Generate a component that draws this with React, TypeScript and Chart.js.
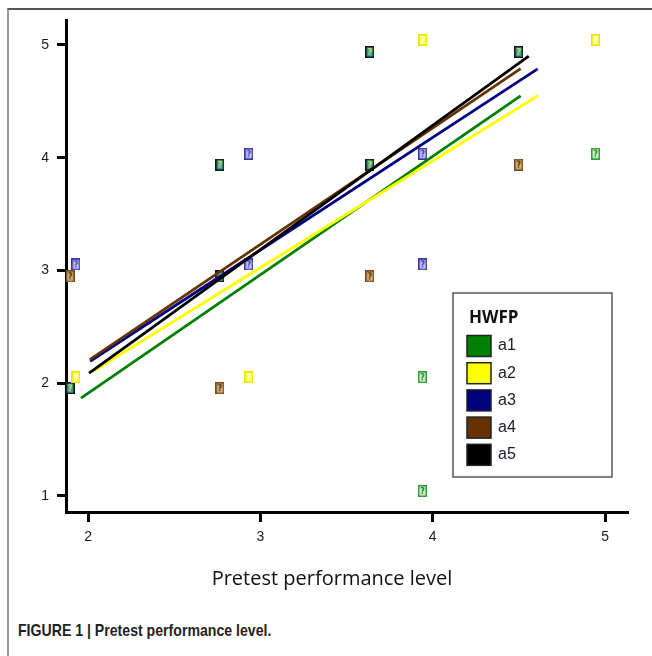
import React, { useEffect, useRef } from "react";
import { Chart, registerables } from "chart.js";

Chart.register(...registerables);

const SERIES_NAMES = ["a1", "a2", "a3", "a4", "a5"];
const SERIES_COLORS = ["#008000", "#ffff00", "#000080", "#663300", "#000000"];

const A1_X = [3.94, 3.94, 4.945];
const A1_Y = [2.053, 1.044, 4.035];
const A2_X = [1.93, 2.933, 3.942, 4.945];
const A2_Y = [2.053, 2.053, 5.044, 5.044];
const A3_X = [1.93, 2.933, 2.933, 3.942, 3.942];
const A3_Y = [3.053, 4.035, 3.053, 4.035, 3.053];
const A4_X = [1.896, 2.765, 3.635, 4.499];
const A4_Y = [2.947, 1.956, 2.947, 3.938];
const A5_X = [1.896, 2.765, 2.765, 3.635, 3.635, 4.499];
const A5_Y = [1.956, 3.938, 2.947, 4.938, 3.938, 4.938];

// Fitted lines (start and end points)
const FIT_A1_X = [1.959, 4.51];
const FIT_A1_Y = [1.867, 4.549];
const FIT_A2_X = [2.03, 4.61];
const FIT_A2_Y = [2.106, 4.549];
const FIT_A3_X = [2.012, 4.609];
const FIT_A3_Y = [2.195, 4.788];
const FIT_A4_X = [2.01, 4.51];
const FIT_A4_Y = [2.21, 4.79];
const FIT_A5_X = [2.006, 4.557];
const FIT_A5_Y = [2.09, 4.9];

const X_TICKS = [2, 3, 4, 5];
const Y_TICKS = [1, 2, 3, 4, 5];
const X_MIN = 1.872;
const X_MAX = 5.133;
const Y_MIN = 0.858;
const Y_MAX = 5.221;

const X_TITLE = "Pretest performance level";
const LEGEND_TITLE = "HWFP";
const CAPTION = "FIGURE 1 | Pretest performance level.";

const SCATTER_X = [A1_X, A2_X, A3_X, A4_X, A5_X];
const SCATTER_Y = [A1_Y, A2_Y, A3_Y, A4_Y, A5_Y];
const FIT_X = [FIT_A1_X, FIT_A2_X, FIT_A3_X, FIT_A4_X, FIT_A5_X];
const FIT_Y = [FIT_A1_Y, FIT_A2_Y, FIT_A3_Y, FIT_A4_Y, FIT_A5_Y];

const MARKER_STYLES = [
  { stroke: "#2f9f2f", fill: "#d4f0d4", glyph: "#1f7f1f" },
  { stroke: "#e6e600", fill: "#ffff66", glyph: "#ffffff" },
  { stroke: "#3535a8", fill: "#c8c8f8", glyph: "#2f2fa0" },
  { stroke: "#7a4a1a", fill: "#d8b47a", glyph: "#3a2000" },
  { stroke: "#151515", fill: "#3aa8a0", glyph: "#e8e040" },
];

function makeMarker(stroke: string, fill: string, glyph: string) {
  const c = document.createElement("canvas");
  c.width = 9;
  c.height = 12;
  const g = c.getContext("2d")!;
  g.fillStyle = fill;
  g.fillRect(0, 0, 9, 12);
  g.strokeStyle = stroke;
  g.lineWidth = 1.5;
  g.strokeRect(0.75, 0.75, 7.5, 10.5);
  g.fillStyle = glyph;
  g.font = "bold 8px 'DejaVu Sans'";
  g.textAlign = "center";
  g.textBaseline = "middle";
  g.fillText("?", 4.5, 6.5);
  return c;
}

const legendPlugin = {
  id: "hwfpLegend",
  afterDraw(chart: any) {
    const { ctx, chartArea } = chart;
    const left = chartArea.right - 175;
    const top = chartArea.top + 273;
    const w = 159;
    const h = 184;
    ctx.save();
    ctx.strokeStyle = "#555";
    ctx.lineWidth = 1.5;
    ctx.fillStyle = "#fff";
    ctx.fillRect(left, top, w, h);
    ctx.strokeRect(left, top, w, h);
    ctx.fillStyle = "#111";
    ctx.font = "bold 17px 'Open Sans'";
    ctx.textAlign = "left";
    ctx.textBaseline = "middle";
    ctx.fillText(LEGEND_TITLE, left + 16, top + 25);
    ctx.font = "16px 'Liberation Sans'";
    SERIES_NAMES.forEach((name, i) => {
      const cy = top + 53 + i * 27.2;
      ctx.fillStyle = SERIES_COLORS[i];
      ctx.fillRect(left + 14, cy - 10.5, 24, 21);
      ctx.strokeStyle = "#222";
      ctx.lineWidth = 1.5;
      ctx.strokeRect(left + 14, cy - 10.5, 24, 21);
      ctx.fillStyle = "#1a1a2a";
      ctx.fillText(name, left + 45, cy);
    });
    ctx.restore();
  },
};

export default function App() {
  const ref = useRef<HTMLCanvasElement>(null);

  useEffect(() => {
    if (!ref.current) return;
    const markers = MARKER_STYLES.map((m) => makeMarker(m.stroke, m.fill, m.glyph));

    const scatterSets = SERIES_NAMES.map((name, i) => ({
      type: "scatter" as const,
      label: name + " obs",
      data: SCATTER_X[i].map((x, j) => ({ x, y: SCATTER_Y[i][j] })),
      pointStyle: markers[i],
      pointRadius: 5,
      order: 20 + i,
    }));

    const lineSets = SERIES_NAMES.map((name, i) => ({
      type: "line" as const,
      label: name,
      data: FIT_X[i].map((x, j) => ({ x, y: FIT_Y[i][j] })),
      borderColor: SERIES_COLORS[i],
      backgroundColor: SERIES_COLORS[i],
      borderWidth: 2.8,
      pointRadius: 0,
      showLine: true,
      fill: false,
      tension: 0,
      order: 10 - i,
    }));

    const chart = new Chart(ref.current, {
      type: "scatter",
      data: { datasets: [...scatterSets, ...lineSets] as any },
      options: {
        animation: false,
        responsive: false,
        devicePixelRatio: 1,
        layout: { padding: { left: 0, right: 24, top: 20, bottom: 0 } },
        plugins: {
          legend: { display: false },
          tooltip: { enabled: false },
        },
        scales: {
          x: {
            type: "linear",
            min: X_MIN,
            max: X_MAX,
            afterFit: (s: any) => {
              s.height = 88;
            },
            afterBuildTicks: (s: any) => {
              s.ticks = X_TICKS.map((v) => ({ value: v }));
            },
            grid: {
              drawOnChartArea: false,
              drawTicks: true,
              tickLength: 10,
              tickWidth: 3,
              tickColor: "#000",
            },
            border: { display: true, width: 3, color: "#000" },
            ticks: {
              color: "#1a1a26",
              font: { family: "'Liberation Sans', Arial", size: 14 },
              padding: 7,
              maxRotation: 0,
            },
          },
          y: {
            type: "linear",
            min: Y_MIN,
            max: Y_MAX,
            afterFit: (s: any) => {
              s.width = 66;
            },
            afterBuildTicks: (s: any) => {
              s.ticks = Y_TICKS.map((v) => ({ value: v }));
            },
            grid: {
              drawOnChartArea: false,
              drawTicks: true,
              tickLength: 9,
              tickWidth: 3,
              tickColor: "#000",
            },
            border: { display: true, width: 3, color: "#000" },
            ticks: {
              color: "#1a1a26",
              font: { family: "'Liberation Sans', Arial", size: 14 },
              padding: 8,
            },
          },
        },
      },
      plugins: [legendPlugin],
    });
    return () => chart.destroy();
  }, []);

  return (
    <div
      style={{
        position: "absolute",
        left: 0,
        top: 0,
        width: 652,
        height: 656,
        background: "#fff",
        overflow: "hidden",
      }}
    >
      <div
        style={{
          position: "absolute",
          left: 7,
          top: 8,
          right: -4,
          bottom: -4,
          borderLeft: "2px solid #999",
          borderTop: "2px solid #555",
        }}
      />
      <canvas
        ref={ref}
        width={652}
        height={600}
        style={{ position: "absolute", left: 0, top: 0, width: 652, height: 600 }}
      />
      <div
        style={{
          position: "absolute",
          left: 0,
          width: 664,
          top: 565,
          textAlign: "center",
          fontFamily: "'Open Sans', sans-serif",
          fontSize: 20,
          lineHeight: "26px",
          color: "#111",
        }}
      >
        {X_TITLE}
      </div>
      <div
        style={{
          position: "absolute",
          left: 18,
          top: 621,
          fontFamily: "'Liberation Sans', Arial, sans-serif",
          fontWeight: "bold",
          fontSize: 17,
          lineHeight: "20px",
          color: "#231f20",
          whiteSpace: "nowrap",
          transform: "scaleX(0.83)",
          transformOrigin: "0 50%",
        }}
      >
        {CAPTION}
      </div>
    </div>
  );
}
